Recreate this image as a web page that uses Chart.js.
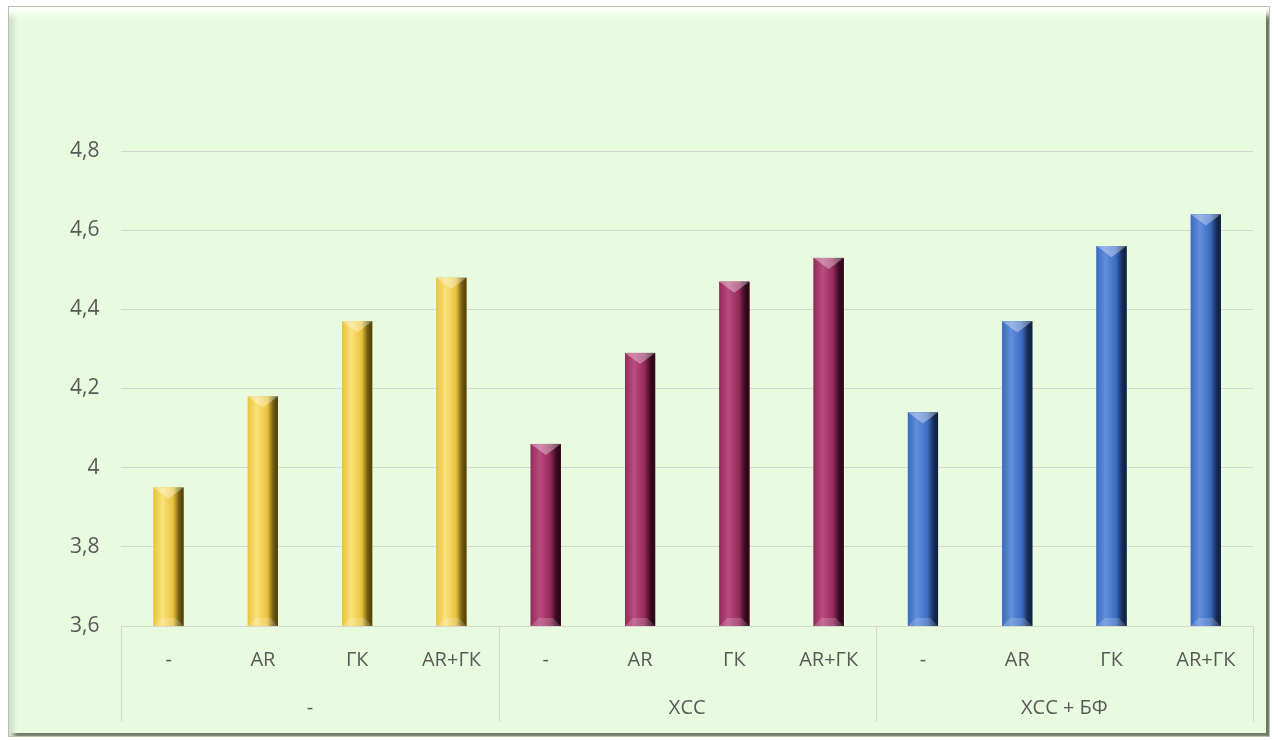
<!DOCTYPE html>
<html>
<head>
<meta charset="utf-8">
<script src="https://cdn.jsdelivr.net/npm/chart.js@4"></script>
<style>
    html, body { margin: 0; padding: 0; background: #ffffff; }
    #card {
        position: absolute;
        left: 8px; top: 6px;
        width: 1260px; height: 729px;
        background: #e9fbdf;
        border: 1px solid #b4c2ae;
        box-shadow: inset 0 12px 6px -4px #fbfff8, inset 7px 0 4px -2px #cfe0c8, inset -3px 0 0 #69745f, inset 0 -3px 0 #6f7b68;
    }
    #wrap { position: absolute; left: 0; top: 0; width: 1278px; height: 724px; }
</style>
</head>
<body>
<div id="card"></div>
<div id="wrap"><canvas id="barChart"></canvas></div>
<script>
// groups on the lower axis row, treatments on the upper one
var groups = ["-", "ХСС", "ХСС + БФ"]
var treatments = ["-", "AR", "ГК", "AR+ГК"]

var noneValues = [3.95, 4.18, 4.37, 4.48]
var xccValues = [4.06, 4.29, 4.47, 4.53]
var xccBfValues = [4.14, 4.37, 4.56, 4.64]

var yTicks = [3.6, 3.8, 4, 4.2, 4.4, 4.6, 4.8]

// base / light / dark shades per group
var palette = [
    { base: "#e9c33c", light: "#fbe27c", dark: "#6f5a12" },
    { base: "#952a5b", light: "#b94c80", dark: "#3a0920" },
    { base: "#3b6cc1", light: "#628fdc", dark: "#172d58" },
]

var labels = []
var values = []
var colors = []
;[noneValues, xccValues, xccBfValues].forEach(function (arr, g) {
    arr.forEach(function (v, i) {
        labels.push(treatments[i])
        values.push(v)
        colors.push(g)
    })
})

// paints the bevelled look on top of each bar
var bevelPlugin = {
    id: "bevel",
    afterDatasetsDraw: function (chart) {
        var ctx = chart.ctx
        var area = chart.chartArea
        ctx.save()
        ctx.beginPath()
        ctx.rect(area.left, area.top, area.right - area.left, area.bottom - area.top)
        ctx.clip()
        chart.getDatasetMeta(0).data.forEach(function (bar, i) {
            var c = palette[colors[i]]
            var w = bar.width
            var l = bar.x - w / 2
            var r = bar.x + w / 2
            var t = bar.y
            var b = Math.min(bar.base, area.bottom)
            var cx = bar.x
            var bv = 8

            var g = ctx.createLinearGradient(l, 0, r, 0)
            g.addColorStop(0, c.base)
            g.addColorStop(0.3, c.light)
            g.addColorStop(0.65, c.base)
            g.addColorStop(0.85, c.dark)
            g.addColorStop(1, c.dark)
            ctx.fillStyle = g
            ctx.fillRect(l, t, w, b - t)

            // top facet
            ctx.beginPath()
            ctx.moveTo(l, t)
            ctx.lineTo(r, t)
            ctx.lineTo(cx, t + bv * 1.4)
            ctx.closePath()
            ctx.fillStyle = "rgba(255,255,255,0.35)"
            ctx.fill()

            // bottom facet
            ctx.beginPath()
            ctx.moveTo(l, b)
            ctx.lineTo(r, b)
            ctx.lineTo(r - bv, b - bv)
            ctx.lineTo(l + bv, b - bv)
            ctx.closePath()
            ctx.fillStyle = "rgba(255,255,255,0.18)"
            ctx.fill()

            ctx.fillStyle = "rgba(0,0,0,0.2)"
            ctx.fillRect(r - 3, t, 3, b - t)
        })
        ctx.restore()
    },
    afterDraw: function (chart) {
        // separators between groups under the axis
        var ctx = chart.ctx
        var x = chart.scales.x
        var x2 = chart.scales.x2
        var per = treatments.length
        ctx.save()
        ctx.strokeStyle = "#d6d9d3"
        ctx.lineWidth = 1
        for (var k = 0; k <= groups.length; k++) {
            var px = Math.round(x.getPixelForValue(k * per - 0.5)) + 0.5
            ctx.beginPath()
            ctx.moveTo(px, chart.chartArea.bottom)
            ctx.lineTo(px, x2.bottom)
            ctx.stroke()
        }
        ctx.restore()
    },
}

new Chart("barChart", {
    type: "bar",
    data: {
        labels: labels,
        datasets: [
            {
                data: values,
                backgroundColor: colors.map(function (g) { return palette[g].base }),
                barPercentage: 0.32,
                categoryPercentage: 1,
            },
        ],
    },
    options: {
        responsive: true,
        maintainAspectRatio: false,
        animation: false,
        layout: { padding: { top: 151, bottom: 2, left: 48, right: 25 } },
        plugins: {
            legend: { display: false },
            tooltip: { enabled: false },
        },
        scales: {
            y: {
                min: 3.6,
                max: 4.8,
                afterBuildTicks: function (axis) {
                    axis.ticks = yTicks.map(function (v) { return { value: v } })
                },
                border: { display: false },
                grid: { color: "#d6d9d3", lineWidth: 1, drawTicks: false },
                ticks: {
                    padding: 22,
                    color: "#595959",
                    font: { family: "Open Sans", size: 21 },
                    callback: function (v) { return String(v).replace(".", ",") },
                },
            },
            x: {
                border: { display: false },
                grid: { display: false },
                ticks: {
                    padding: 14,
                    color: "#595959",
                    font: { family: "Open Sans", size: 20 },
                    maxRotation: 0,
                    autoSkip: false,
                },
            },
            x2: {
                type: "category",
                position: "bottom",
                labels: groups,
                offset: true,
                border: { display: false },
                grid: { display: false },
                ticks: {
                    padding: 2,
                    color: "#595959",
                    font: { family: "Open Sans", size: 20 },
                    maxRotation: 0,
                },
            },
        },
    },
    plugins: [bevelPlugin],
})
</script>
</body>
</html>
